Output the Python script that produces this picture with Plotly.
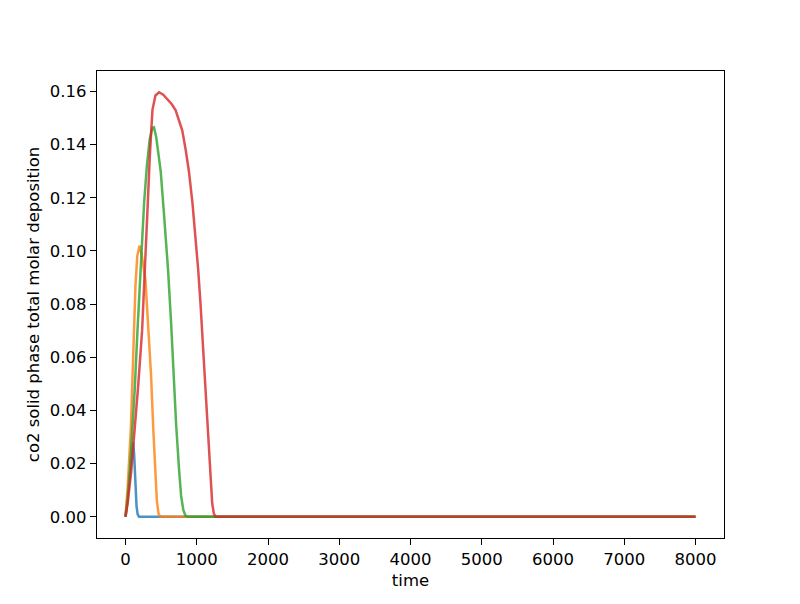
import plotly.graph_objects as go

# valores (tempo, deposição molar)
t_blue = [0, 40, 80, 107, 120, 140, 155, 170, 190, 8000]
v_blue = [0, 0.010, 0.022, 0.028, 0.024, 0.011, 0.004, 0.001, 0, 0]

t_orange = [0, 30, 75, 121, 140, 165, 196, 225, 261, 280, 300, 330, 359, 390, 415, 440, 465, 490, 8000]
v_orange = [0, 0.011, 0.033, 0.070, 0.087, 0.098, 0.102, 0.099, 0.093, 0.089, 0.080, 0.066, 0.053,
            0.033, 0.017, 0.006, 0.001, 0, 0]

t_green = [0, 30, 60, 98, 130, 168, 210, 261, 300, 340, 375, 400, 430, 460, 494, 540, 597, 640,
           671, 710, 751, 780, 811, 840, 870, 8000]
v_green = [0, 0.006, 0.017, 0.033, 0.048, 0.070, 0.092, 0.118, 0.132, 0.142, 0.1462, 0.1465, 0.143,
           0.137, 0.130, 0.114, 0.093, 0.073, 0.055, 0.035, 0.018, 0.008, 0.0026, 0.0005, 0, 0]

t_red = [0, 30, 80, 131, 180, 233, 280, 308, 340, 378, 420, 471, 530, 587, 650, 704, 750, 797, 845,
         890, 940, 984, 1020, 1053, 1080, 1110, 1140, 1171, 1195, 1217, 1240, 1265, 8000]
v_red = [0, 0.005, 0.017, 0.033, 0.050, 0.070, 0.095, 0.115, 0.135, 0.153, 0.1585, 0.1597, 0.1588,
         0.1572, 0.1552, 0.1529, 0.1495, 0.1453, 0.138, 0.130, 0.118, 0.1053, 0.093, 0.080, 0.068,
         0.055, 0.040, 0.024, 0.013, 0.005, 0.0012, 0, 0]

series = [
    (t_blue, v_blue, 'rgba(31,119,180,0.8)'),
    (t_orange, v_orange, 'rgba(255,127,14,0.8)'),
    (t_green, v_green, 'rgba(44,160,44,0.8)'),
    (t_red, v_red, 'rgba(214,39,40,0.8)'),
]

fig = go.Figure()
for t, v, cor in series:
    fig.add_trace(go.Scatter(x=t, y=v, mode='lines', line=dict(color=cor, width=2.5), showlegend=False))

fonte = dict(family='DejaVu Sans', size=16.5, color='black')

eixo = dict(
    showline=True, linecolor='black', linewidth=1.2, mirror=True,
    ticks='outside', ticklen=6, tickwidth=1.2, tickcolor='black',
    showgrid=False, zeroline=False,
    tickfont=fonte,
)

fig.update_layout(
    width=800, height=604,
    paper_bgcolor='white', plot_bgcolor='white',
    margin=dict(l=89, r=84, t=63, b=74),
    xaxis=dict(eixo, range=[-400, 8400], tickvals=list(range(0, 8001, 1000)),
               title=dict(text='time', font=fonte, standoff=6)),
    yaxis=dict(eixo, range=[-0.008, 0.1677], tickvals=[i * 0.02 for i in range(9)], tickformat='.2f',
               title=dict(text='co2 solid phase total molar deposition', font=fonte, standoff=6)),
)

fig.write_html('out.html')
